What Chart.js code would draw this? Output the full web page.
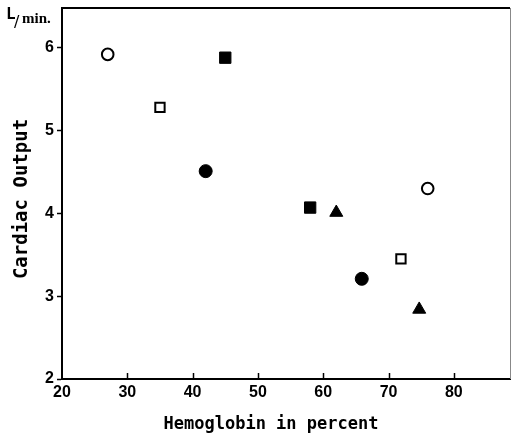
<!DOCTYPE html>
<html><head><meta charset="utf-8">
<script src="https://cdn.jsdelivr.net/npm/chart.js@4"></script>
<style>html,body{margin:0;padding:0;background:#fff}#wrap{width:515px;height:440px}</style>
</head><body><div id="wrap"><canvas id="c"></canvas></div>
<script>
const openCircleX = [27, 76];
const openCircleY = [5.92, 4.30];
const filledCircleX = [42, 65.9];
const filledCircleY = [4.51, 3.21];
const openSquareX = [35, 71.9];
const openSquareY = [5.28, 3.45];
const filledSquareX = [45, 58];
const filledSquareY = [5.88, 4.07];
const triangleX = [62, 74.7];
const triangleY = [4.01, 2.84];
const xTicks = [20, 30, 40, 50, 60, 70, 80];
const yTicks = [2, 3, 4, 5, 6];
const xTitle = 'Hemoglobin in percent';
const yTitle = 'Cardiac Output';
const unitMain = 'L';
const unitSlash = '/';
const unitSub = 'min.';

function pts(xs, ys) { return xs.map((x, i) => ({ x: x, y: ys[i] })); }

const tickFont = { family: 'Liberation Sans', size: 16, weight: 'bold' };

function noPad(s) { s.paddingTop = 0; s.paddingBottom = 0; s.paddingLeft = 0; s.paddingRight = 0; }

const framePlugin = {
  id: 'frame',
  afterDraw(chart) {
    const ctx = chart.ctx, a = chart.chartArea, xs = chart.scales.x;
    ctx.save();
    ctx.strokeStyle = '#000';
    ctx.lineWidth = 2;
    ctx.beginPath(); ctx.moveTo(a.left - 1, a.top); ctx.lineTo(a.right, a.top); ctx.stroke();
    ctx.strokeStyle = '#888';
    ctx.lineWidth = 1;
    ctx.beginPath(); ctx.moveTo(a.right + 0.5, a.top); ctx.lineTo(a.right + 0.5, a.bottom); ctx.stroke();
    ctx.strokeStyle = '#000';
    ctx.lineWidth = 1.5;
    xTicks.forEach(v => {
      if (v === xs.min) return;
      const px = Math.round(xs.getPixelForValue(v)) + 0.5;
      ctx.beginPath(); ctx.moveTo(px, a.bottom); ctx.lineTo(px, a.bottom - 6); ctx.stroke();
    });
    ctx.fillStyle = '#000';
    ctx.textBaseline = 'alphabetic';
    ctx.font = 'bold 16px "DejaVu Sans Mono"';
    ctx.fillText(unitMain, 6, 19);
    ctx.font = '16px "DejaVu Sans"';
    ctx.fillText(unitSlash, 14, 27);
    ctx.font = 'bold 15px "Liberation Serif"';
    ctx.fillText(unitSub, 22, 23);
    ctx.font = 'bold 17px "DejaVu Sans Mono"';
    ctx.textAlign = 'center';
    ctx.textBaseline = 'middle';
    ctx.fillText(xTitle, 271, 425);
    ctx.translate(22, 199);
    ctx.rotate(-Math.PI / 2);
    ctx.font = 'bold 19px "DejaVu Sans Mono"';
    ctx.fillText(yTitle, 0, 0);
    ctx.restore();
  }
};

new Chart(document.getElementById('c'), {
  type: 'scatter',
  data: {
    datasets: [
      { data: pts(openCircleX, openCircleY), pointStyle: 'circle', pointRadius: 5.8, backgroundColor: '#fff', borderColor: '#000', borderWidth: 2 },
      { data: pts(filledCircleX, filledCircleY), pointStyle: 'circle', pointRadius: 6.5, backgroundColor: '#000', borderColor: '#000', borderWidth: 1 },
      { data: pts(openSquareX, openSquareY), pointStyle: 'rect', pointRadius: 6.6, backgroundColor: '#fff', borderColor: '#000', borderWidth: 2 },
      { data: pts(filledSquareX, filledSquareY), pointStyle: 'rect', pointRadius: 8, backgroundColor: '#000', borderColor: '#000', borderWidth: 1 },
      { data: pts(triangleX, triangleY), pointStyle: 'triangle', pointRadius: 7.5, backgroundColor: '#000', borderColor: '#000', borderWidth: 1 }
    ]
  },
  options: {
    responsive: true,
    maintainAspectRatio: false,
    animation: false,
    layout: { autoPadding: false, padding: { top: 8, right: 5, left: 0, bottom: 0 } },
    plugins: { legend: { display: false }, tooltip: { enabled: false } },
    scales: {
      x: {
        type: 'linear', min: 20, max: 88.6,
        afterBuildTicks: s => { s.ticks = xTicks.map(v => ({ value: v })); },
        afterFit: s => { s.height = 61; noPad(s); },
        border: { color: '#000', width: 2 },
        grid: { drawOnChartArea: false, drawTicks: false },
        ticks: { font: tickFont, color: '#000', padding: 4, maxRotation: 0, includeBounds: false },
        title: { display: false }
      },
      y: {
        type: 'linear', min: 2, max: 6.48,
        afterBuildTicks: s => { s.ticks = yTicks.map(v => ({ value: v })); },
        afterFit: s => { s.width = 62; noPad(s); },
        border: { color: '#000', width: 2 },
        grid: { drawOnChartArea: false, drawTicks: true, tickLength: 5, color: '#000', tickWidth: 1.5 },
        ticks: { font: tickFont, color: '#000', padding: 3, includeBounds: false },
        title: { display: false }
      }
    }
  },
  plugins: [framePlugin]
});
</script>
</body></html>
